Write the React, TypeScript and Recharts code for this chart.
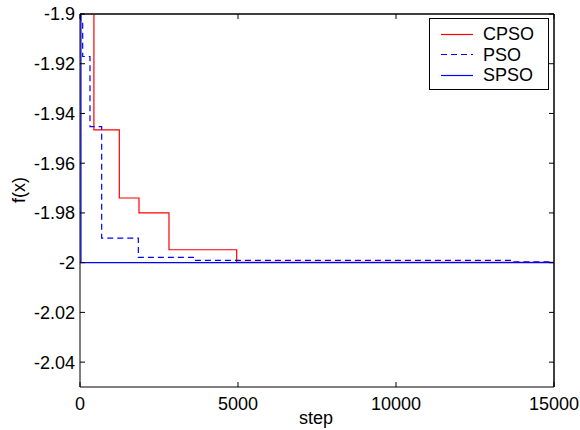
import React from 'react';
import { LineChart, Line, XAxis, YAxis, Label, ReferenceLine } from 'recharts';

const cpsoSteps = [0, 440, 1244, 1867, 2816, 4958, 15000];
const cpsoValues = [-1.8, -1.9466, -1.974, -1.98, -1.9948, -1.9999, -1.9999];
const psoSteps = [0, 20, 85, 316, 686, 1846, 3587, 13660, 15000];
const psoValues = [-1.8, -1.9024, -1.9171, -1.9453, -1.9901, -1.9979, -1.9991, -1.9997, -1.9997];
const spsoSteps = [0, 30, 15000];
const spsoValues = [-1.8, -2.0, -2.0];

const xTicks = [0, 5000, 10000, 15000];
const xTickLabels = ['0', '5000', '10000', '15000'];
const yTicks = [-2.04, -2.02, -2.0, -1.98, -1.96, -1.94, -1.92, -1.9];
const yTickLabels = ['-2.04', '-2.02', '-2', '-1.98', '-1.96', '-1.94', '-1.92', '-1.9'];

const seriesNames = ['CPSO', 'PSO', 'SPSO'];
const seriesColors = ['#ff0000', '#0000ff', '#0000ff'];
const seriesDash = ['', '6 4', ''];

const toData = (xs: number[], ys: number[]) => xs.map((x, i) => ({ x, y: ys[i] }));
const cpsoData = toData(cpsoSteps, cpsoValues);
const psoData = toData(psoSteps, psoValues);
const spsoData = toData(spsoSteps, spsoValues);
const frameData = [{ x: 0, y: -2.0 }, { x: 15000, y: -2.0 }];

const FONT = '"Liberation Sans", Arial, Helvetica, sans-serif';
const TICK_LEN = 5;
const X_MARGIN = 10;
const Y_MARGIN = 5;

const labelFor = (ticks: number[], labels: string[], v: number) => {
  const i = ticks.findIndex((t) => Math.abs(t - v) < 1e-9);
  return i >= 0 ? labels[i] : String(v);
};

const makeTick = (orientation: 'bottom' | 'top' | 'left' | 'right', margin: number, withLabel: boolean) => (props: any) => {
  const { x, y, payload } = props;
  if (orientation === 'bottom') {
    const ay = y - margin;
    return (
      <g>
        <line x1={x} x2={x} y1={ay} y2={ay - TICK_LEN} stroke="#000" strokeWidth={1} />
        {withLabel && (
          <text x={x} y={y} dy="0.71em" textAnchor="middle" fontSize={18} fontFamily={FONT} fill="#000">
            {labelFor(xTicks, xTickLabels, payload.value)}
          </text>
        )}
      </g>
    );
  }
  if (orientation === 'top') {
    const ay = y + margin;
    return <line x1={x} x2={x} y1={ay} y2={ay + TICK_LEN} stroke="#000" strokeWidth={1} />;
  }
  if (orientation === 'left') {
    const ax = x + margin;
    return (
      <g>
        <line x1={ax} x2={ax + TICK_LEN} y1={y} y2={y} stroke="#000" strokeWidth={1} />
        {withLabel && (
          <text x={x} y={y} dy="0.355em" textAnchor="end" fontSize={18} fontFamily={FONT} fill="#000">
            {labelFor(yTicks, yTickLabels, payload.value)}
          </text>
        )}
      </g>
    );
  }
  const ax = x - margin;
  return <line x1={ax} x2={ax - TICK_LEN} y1={y} y2={y} stroke="#000" strokeWidth={1} />;
};

const LegendBox = () => (
  <svg width={120} height={72} style={{ display: 'block' }}>
    <rect x={0.5} y={0.5} width={119} height={71} fill="#fff" stroke="#000" strokeWidth={1} />
    {seriesNames.map((n, i) => {
      const cy = 15.5 + i * 20.5;
      return (
        <g key={n}>
          <line x1={12} x2={44} y1={Math.round(cy) + 0.5} y2={Math.round(cy) + 0.5} stroke={seriesColors[i]} strokeWidth={1.2} strokeDasharray={seriesDash[i] || undefined} />
          <text x={54} y={cy + 6.5} fontSize={18} fontFamily={FONT} fill="#000">{n}</text>
        </g>
      );
    })}
  </svg>
);

export default function App() {
  return (
    <div style={{ position: 'absolute', left: 0, top: 0, width: 580, height: 430, background: '#fff' }}>
      <LineChart width={580} height={430} margin={{ top: 13, right: 25, bottom: 0, left: 0 }}>
        <XAxis
          dataKey="x"
          type="number"
          domain={[0, 15000]}
          ticks={xTicks}
          allowDataOverflow
          height={43}
          tickSize={0}
          tickMargin={X_MARGIN}
          tickLine={false}
          stroke="#000"
          tick={makeTick('bottom', X_MARGIN, true)}
        >
          <Label
            content={() => (
              <text x={316} y={424} textAnchor="middle" fontSize={18} fontFamily={FONT} fill="#000">step</text>
            )}
          />
        </XAxis>
        <XAxis
          xAxisId="top"
          dataKey="x"
          orientation="top"
          type="number"
          domain={[0, 15000]}
          ticks={xTicks}
          height={1}
          tickSize={0}
          tickMargin={0}
          tickLine={false}
          stroke="#000"
          tick={makeTick('top', 0, false)}
        />
        <YAxis
          type="number"
          domain={[-2.05, -1.9]}
          ticks={yTicks}
          allowDataOverflow
          width={80}
          tickSize={0}
          tickMargin={Y_MARGIN}
          tickLine={false}
          stroke="#000"
          tick={makeTick('left', Y_MARGIN, true)}
        >
          <Label
            content={() => (
              <text transform="translate(25,190) rotate(-90)" textAnchor="middle" fontSize={18} fontFamily={FONT} fill="#000">f(x)</text>
            )}
          />
        </YAxis>
        <YAxis
          yAxisId="right"
          orientation="right"
          type="number"
          domain={[-2.05, -1.9]}
          ticks={yTicks}
          width={1}
          tickSize={0}
          tickMargin={0}
          tickLine={false}
          stroke="#000"
          tick={makeTick('right', 0, false)}
        />
        <ReferenceLine y={-1.9} stroke="#000" strokeWidth={1} />
        <ReferenceLine x={15000} stroke="#000" strokeWidth={1} />
        <Line data={cpsoData} dataKey="y" name={seriesNames[0]} type="stepAfter" stroke={seriesColors[0]} strokeWidth={1.2} dot={false} isAnimationActive={false} />
        <Line data={psoData} dataKey="y" name={seriesNames[1]} type="stepAfter" stroke={seriesColors[1]} strokeWidth={1.2} strokeDasharray={seriesDash[1]} dot={false} isAnimationActive={false} />
        <Line data={spsoData} dataKey="y" name={seriesNames[2]} type="stepAfter" stroke={seriesColors[2]} strokeWidth={1.2} dot={false} isAnimationActive={false} />
        <Line data={frameData} xAxisId="top" yAxisId="right" dataKey="y" legendType="none" stroke="none" dot={false} activeDot={false} isAnimationActive={false} />
      </LineChart>
      <div style={{ position: 'absolute', left: 429, top: 18 }}>
        <LegendBox />
      </div>
    </div>
  );
}
